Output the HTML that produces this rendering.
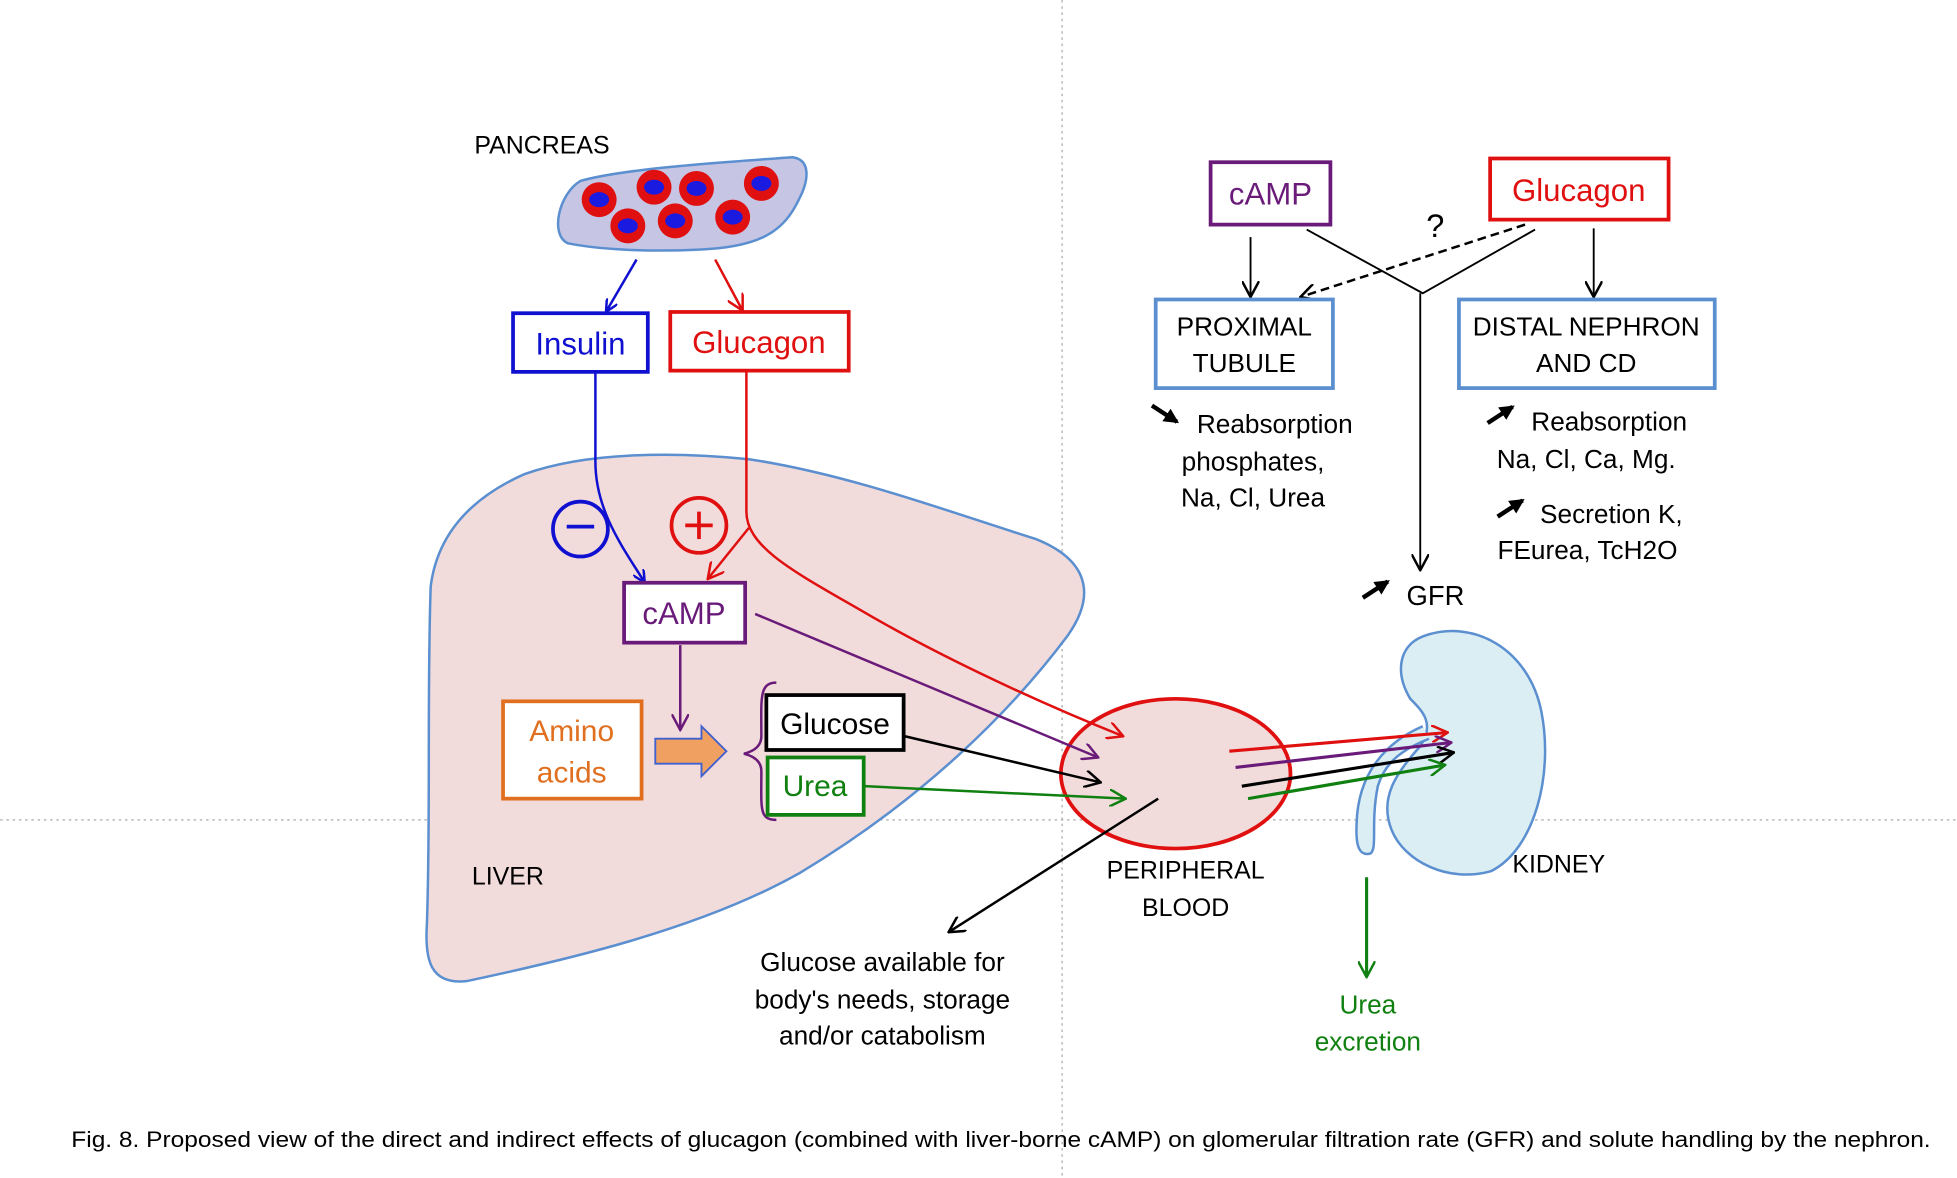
<!DOCTYPE html>
<html><head><meta charset="utf-8"><style>
html,body{margin:0;padding:0;background:#fff}
svg{display:block}
text{font-family:"Liberation Sans",sans-serif}
</style></head><body>
<svg width="1957" height="1178" viewBox="0 0 1568 944" xmlns="http://www.w3.org/2000/svg">
<defs>
<marker id="ab" markerWidth="10" markerHeight="10" refX="9" refY="5" orient="auto" markerUnits="userSpaceOnUse"><path d="M0,0 L10,5 L0,10" fill="none" stroke="#1010d0" stroke-width="2"/></marker>
<marker id="ar" markerWidth="14" markerHeight="14" refX="13" refY="7" orient="auto" markerUnits="userSpaceOnUse"><path d="M0,0 L13,7 L0,14" fill="none" stroke="#e01010" stroke-width="2"/></marker>
<marker id="ap" markerWidth="14" markerHeight="14" refX="13" refY="7" orient="auto" markerUnits="userSpaceOnUse"><path d="M0,0 L13,7 L0,14" fill="none" stroke="#6a1b7a" stroke-width="2"/></marker>
<marker id="ak" markerWidth="14" markerHeight="14" refX="13" refY="7" orient="auto" markerUnits="userSpaceOnUse"><path d="M0,0 L13,7 L0,14" fill="none" stroke="#000" stroke-width="2"/></marker>
<marker id="ag" markerWidth="14" markerHeight="14" refX="13" refY="7" orient="auto" markerUnits="userSpaceOnUse"><path d="M0,0 L13,7 L0,14" fill="none" stroke="#108010" stroke-width="2"/></marker>
<marker id="kf" markerWidth="12" markerHeight="12" refX="10" refY="6" orient="auto" markerUnits="userSpaceOnUse"><path d="M0,0 L12,6 L0,12 Z" fill="#000"/></marker>
</defs>
<line x1="851" y1="0" x2="851" y2="944" stroke="#aaa" stroke-dasharray="2,3"/>
<line x1="0" y1="657" x2="1568" y2="657" stroke="#aaa" stroke-dasharray="2,3"/>

<!-- Liver -->
<path d="M345,470 C350,430 375,400 420,380 C470,362 540,362 600,368 C680,380 760,410 830,432 C870,448 880,475 855,510 C810,570 740,640 640,700 C560,745 450,770 375,786 C345,790 340,770 342,740 C345,650 342,560 345,470 Z" fill="#f2dcdb" stroke="#5b8fd0" stroke-width="2"/>
<text x="378" y="709" font-size="20">LIVER</text>

<!-- Peripheral blood (below arrows) -->
<ellipse cx="942" cy="620" rx="92" ry="60" fill="#f2dcdb" stroke="#e01010" stroke-width="3"/>

<!-- Pancreas -->
<text x="380" y="123" font-size="20">PANCREAS</text>
<path d="M465,145 C500,135 580,130 635,126 C650,128 648,145 640,160 C628,185 610,198 560,200 C520,202 480,200 455,195 C440,188 448,155 465,145 Z" fill="#c6c6e4" stroke="#5b8fd0" stroke-width="2"/>
<g fill="#e01010"><circle cx="480" cy="160" r="14"/><circle cx="524" cy="150" r="14"/><circle cx="558" cy="151" r="14"/><circle cx="610" cy="147" r="14"/><circle cx="503" cy="181" r="14"/><circle cx="541" cy="177" r="14"/><circle cx="587" cy="174" r="14"/></g>
<g fill="#1a1ae0"><ellipse cx="480" cy="160" rx="8" ry="6"/><ellipse cx="524" cy="150" rx="8" ry="6"/><ellipse cx="558" cy="151" rx="8" ry="6"/><ellipse cx="610" cy="147" rx="8" ry="6"/><ellipse cx="503" cy="181" rx="8" ry="6"/><ellipse cx="541" cy="177" rx="8" ry="6"/><ellipse cx="587" cy="174" rx="8" ry="6"/></g>
<line x1="510" y1="208" x2="486" y2="249" stroke="#1010d0" stroke-width="2" marker-end="url(#ab)"/>
<line x1="573" y1="208" x2="595" y2="249" stroke="#e01010" stroke-width="2" marker-end="url(#ar)"/>

<rect x="411" y="251" width="108" height="47" fill="#fff" stroke="#1010d0" stroke-width="3"/>
<text x="465" y="284" font-size="25" fill="#1010d0" text-anchor="middle">Insulin</text>
<rect x="537" y="250" width="143" height="47" fill="#fff" stroke="#e01010" stroke-width="3"/>
<text x="608" y="283" font-size="25" fill="#e01010" text-anchor="middle">Glucagon</text>

<circle cx="465" cy="424" r="22" fill="none" stroke="#1010d0" stroke-width="3"/>
<line x1="454" y1="422" x2="476" y2="422" stroke="#1010d0" stroke-width="3"/>
<circle cx="560" cy="421" r="22" fill="none" stroke="#e01010" stroke-width="3"/>
<line x1="549" y1="421" x2="571" y2="421" stroke="#e01010" stroke-width="3"/>
<line x1="560" y1="410" x2="560" y2="432" stroke="#e01010" stroke-width="3"/>

<path d="M477,298 L477,370 C477,410 500,440 516,466" fill="none" stroke="#1010d0" stroke-width="2" marker-end="url(#ab)"/>
<path d="M598,297 L598,410 C598,440 640,460 700,495 C770,535 850,570 900,590" fill="none" stroke="#e01010" stroke-width="2" marker-end="url(#ar)"/>
<line x1="600" y1="423" x2="567" y2="464" stroke="#e01010" stroke-width="2" marker-end="url(#ar)"/>

<rect x="500" y="467" width="97" height="48" fill="#fff" stroke="#6a1b7a" stroke-width="3"/>
<text x="548" y="500" font-size="25" fill="#6a1b7a" text-anchor="middle">cAMP</text>
<line x1="605" y1="492" x2="880" y2="607" stroke="#6a1b7a" stroke-width="2" marker-end="url(#ap)"/>
<line x1="545" y1="517" x2="545" y2="585" stroke="#6a1b7a" stroke-width="2" marker-end="url(#ap)"/>

<rect x="403" y="562" width="111" height="78" fill="#fff" stroke="#e07020" stroke-width="3"/>
<text x="458" y="594" font-size="24" fill="#e07020" text-anchor="middle">Amino</text>
<text x="458" y="627" font-size="24" fill="#e07020" text-anchor="middle">acids</text>
<path d="M525,592 L562,592 L562,582 L582,602 L562,622 L562,612 L525,612 Z" fill="#f0a060" stroke="#4060d0" stroke-width="1.5"/>
<path d="M622,547 C608,547 610,560 610,590 C610,598 604,602 596,604 C604,606 610,610 610,618 C610,648 608,657 622,657" fill="none" stroke="#6a1b7a" stroke-width="2"/>

<rect x="614" y="557" width="110" height="44" fill="#fff" stroke="#000" stroke-width="3"/>
<text x="669" y="588" font-size="24" text-anchor="middle">Glucose</text>
<rect x="615" y="607" width="77" height="46" fill="#fff" stroke="#108010" stroke-width="3"/>
<text x="653" y="638" font-size="24" fill="#108010" text-anchor="middle">Urea</text>
<line x1="725" y1="590" x2="882" y2="627" stroke="#000" stroke-width="2" marker-end="url(#ak)"/>
<line x1="693" y1="630" x2="902" y2="640" stroke="#108010" stroke-width="2" marker-end="url(#ag)"/>

<line x1="928" y1="640" x2="760" y2="747" stroke="#000" stroke-width="2" marker-end="url(#ak)"/>
<text x="950" y="704" font-size="20" text-anchor="middle">PERIPHERAL</text>
<text x="950" y="734" font-size="20" text-anchor="middle">BLOOD</text>
<text x="707" y="778" font-size="21" text-anchor="middle">Glucose available for</text>
<text x="707" y="808" font-size="21" text-anchor="middle">body's needs, storage</text>
<text x="707" y="837" font-size="21" text-anchor="middle">and/or catabolism</text>

<!-- Kidney -->
<path d="M1140,510 C1180,495 1225,520 1235,570 C1245,620 1230,680 1195,698 C1160,708 1125,690 1115,665 C1105,640 1118,620 1138,598 C1150,580 1140,570 1130,560 C1118,540 1120,518 1140,510 Z" fill="#daeef3" stroke="#5b8fd0" stroke-width="2"/>
<path d="M1140,582 C1110,595 1088,620 1087,660 C1086,680 1090,686 1098,684 C1104,680 1098,660 1104,630 C1110,610 1125,600 1145,592" fill="#daeef3" stroke="#5b8fd0" stroke-width="2"/>
<text x="1249" y="699" font-size="20" text-anchor="middle">KIDNEY</text>
<line x1="985" y1="602" x2="1160" y2="587" stroke="#e01010" stroke-width="2.5" marker-end="url(#ar)"/>
<line x1="990" y1="615" x2="1163" y2="595" stroke="#6a1b7a" stroke-width="2.5" marker-end="url(#ap)"/>
<line x1="995" y1="630" x2="1165" y2="603" stroke="#000" stroke-width="2.5" marker-end="url(#ak)"/>
<line x1="1000" y1="640" x2="1158" y2="613" stroke="#108010" stroke-width="2.5" marker-end="url(#ag)"/>
<line x1="1095" y1="703" x2="1095" y2="783" stroke="#108010" stroke-width="2.5" marker-end="url(#ag)"/>
<text x="1096" y="812" font-size="21" fill="#108010" text-anchor="middle">Urea</text>
<text x="1096" y="842" font-size="21" fill="#108010" text-anchor="middle">excretion</text>

<!-- Right top -->
<rect x="970" y="130" width="96" height="50" fill="#fff" stroke="#6a1b7a" stroke-width="3"/>
<text x="1018" y="164" font-size="25" fill="#6a1b7a" text-anchor="middle">cAMP</text>
<rect x="1194" y="127" width="143" height="49" fill="#fff" stroke="#e01010" stroke-width="3"/>
<text x="1265" y="161" font-size="25" fill="#e01010" text-anchor="middle">Glucagon</text>
<text x="1150" y="190" font-size="26" text-anchor="middle">?</text>
<polyline points="1047,184 1140,235 1230,184" fill="none" stroke="#000" stroke-width="1.5"/>
<line x1="1138" y1="235" x2="1138" y2="457" stroke="#000" stroke-width="1.5" marker-end="url(#ak)"/>
<line x1="1222" y1="180" x2="1042" y2="238" stroke="#000" stroke-width="2" stroke-dasharray="7,4" marker-end="url(#ak)"/>
<line x1="1002" y1="190" x2="1002" y2="238" stroke="#000" stroke-width="1.5" marker-end="url(#ak)"/>
<line x1="1277" y1="183" x2="1277" y2="238" stroke="#000" stroke-width="1.5" marker-end="url(#ak)"/>

<rect x="926" y="240" width="142" height="71" fill="#fff" stroke="#5b8fd0" stroke-width="3"/>
<text x="997" y="269" font-size="21" text-anchor="middle">PROXIMAL</text>
<text x="997" y="298" font-size="21" text-anchor="middle">TUBULE</text>
<rect x="1169" y="240" width="205" height="71" fill="#fff" stroke="#5b8fd0" stroke-width="3"/>
<text x="1271" y="269" font-size="21" text-anchor="middle">DISTAL NEPHRON</text>
<text x="1271" y="298" font-size="21" text-anchor="middle">AND CD</text>

<line x1="923" y1="325" x2="943" y2="338" stroke="#000" stroke-width="3.5" marker-end="url(#kf)"/>
<text x="959" y="347" font-size="21">Reabsorption</text>
<text x="1004" y="377" font-size="21" text-anchor="middle">phosphates,</text>
<text x="1004" y="406" font-size="21" text-anchor="middle">Na, Cl, Urea</text>
<line x1="1192" y1="339" x2="1212" y2="326" stroke="#000" stroke-width="3.5" marker-end="url(#kf)"/>
<text x="1227" y="345" font-size="21">Reabsorption</text>
<text x="1271" y="375" font-size="21" text-anchor="middle">Na, Cl, Ca, Mg.</text>
<line x1="1200" y1="414" x2="1220" y2="401" stroke="#000" stroke-width="3.5" marker-end="url(#kf)"/>
<text x="1234" y="419" font-size="21">Secretion K,</text>
<text x="1272" y="448" font-size="21" text-anchor="middle">FEurea, TcH2O</text>
<line x1="1092" y1="479" x2="1112" y2="466" stroke="#000" stroke-width="3.5" marker-end="url(#kf)"/>
<text x="1127" y="485" font-size="22">GFR</text>

<text x="57" y="919" font-size="18" textLength="1490" lengthAdjust="spacingAndGlyphs">Fig. 8. Proposed view of the direct and indirect effects of glucagon (combined with liver-borne cAMP) on glomerular filtration rate (GFR) and solute handling by the nephron.</text>
</svg>
</body></html>
